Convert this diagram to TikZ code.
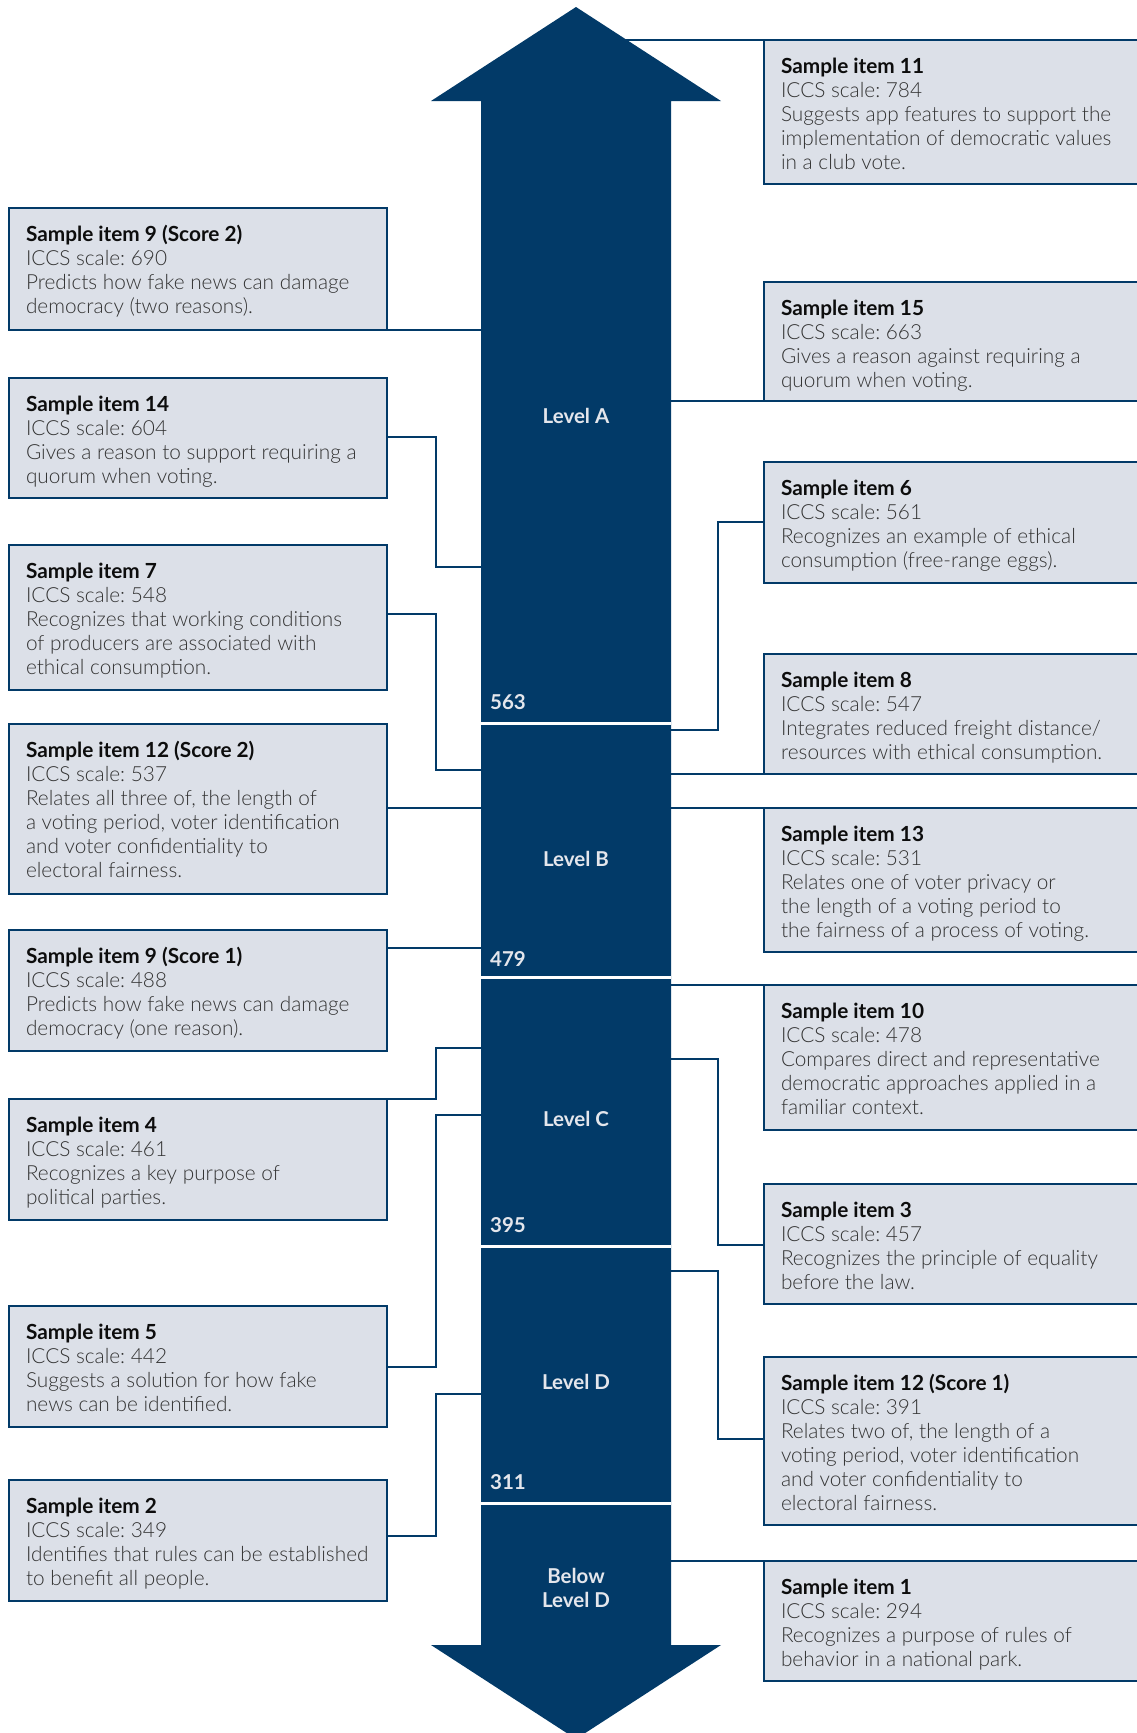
\documentclass[tikz,border=0pt]{standalone}
\usepackage{fontspec}
\setmainfont{Lato Light}[BoldFont={Lato Bold}]
\newfontfamily\labfont{Lato Bold}
\usetikzlibrary{calc}
\frenchspacing
\definecolor{navy}{HTML}{023A68}
\definecolor{boxfill}{HTML}{DCE0E8}
\definecolor{labcol}{HTML}{E4E6EC}
\definecolor{bodycol}{HTML}{333333}
\definecolor{titlecol}{HTML}{0D0D0D}
\newcommand\itl[1]{\hbox{#1}}
\newcommand\itemtext[2]{\vtop{\baselineskip=24pt\lineskiplimit=-100pt\lineskip=0pt\hbox{\color{titlecol}\bfseries #1}#2}}
\newcommand\sample[7]{%
  \node[ibox, minimum width=#4, minimum height=#5] (#1) at (#2,#3) {};
  \node[itxt] (#1t) at ($(#1.north west)+(17,33)$) {\itemtext{#6}{#7}};}
\begin{document}
\begin{tikzpicture}[x=1pt,y=-1pt,
  ibox/.style={draw=navy, fill=boxfill, line width=2.6pt, rectangle, anchor=north west, inner sep=0pt, outer sep=0pt},
  itxt/.style={anchor=base west, inner sep=0pt, outer sep=0pt, text=bodycol, font=\fontsize{20.8}{24}\selectfont},
  conn/.style={draw=navy, line width=2.2pt},
  gapline/.style={draw=white, line width=3pt},
  lvl/.style={text=labcol, font=\labfont\fontsize{20.5}{24}\selectfont, align=center, inner sep=0pt},
  num/.style={text=labcol, font=\labfont\fontsize{20.5}{24}\selectfont, anchor=base west, inner sep=0pt}]
\useasboundingbox (0,0) rectangle (1137,1733);
\clip (0,0) rectangle (1137,1733);
\coordinate (axis) at (576,0);
\coordinate (lk) at (436,0);
\coordinate (rk) at (718,0);
% left connectors
\draw[conn] (387,330) -- (axis |- 0,330);
\draw[conn] (387,437) -- (lk |- 0,437) -- (lk |- 0,567) -- (axis |- 0,567);
\draw[conn] (387,614) -- (lk |- 0,614) -- (lk |- 0,770) -- (axis |- 0,770);
\draw[conn] (387,808) -- (axis |- 0,808);
\draw[conn] (387,948) -- (axis |- 0,948);
\draw[conn] (387,1099) -- (lk |- 0,1099) -- (lk |- 0,1048) -- (axis |- 0,1048);
\draw[conn] (387,1367) -- (lk |- 0,1367) -- (lk |- 0,1115) -- (axis |- 0,1115);
\draw[conn] (387,1536) -- (lk |- 0,1536) -- (lk |- 0,1394) -- (axis |- 0,1394);
% right connectors
\draw[conn] (764,40) -- (axis |- 0,40);
\draw[conn] (764,401) -- (axis |- 0,401);
\draw[conn] (764,522) -- (rk |- 0,522) -- (rk |- 0,730) -- (axis |- 0,730);
\draw[conn] (764,774) -- (axis |- 0,774);
\draw[conn] (764,808) -- (axis |- 0,808);
\draw[conn] (764,985) -- (axis |- 0,985);
\draw[conn] (764,1245) -- (rk |- 0,1245) -- (rk |- 0,1059) -- (axis |- 0,1059);
\draw[conn] (764,1439) -- (rk |- 0,1439) -- (rk |- 0,1271) -- (axis |- 0,1271);
\draw[conn] (764,1561) -- (axis |- 0,1561);
% ---------- double arrow ----------
\fill[navy] (576,7) -- (721,101) -- (671,101) -- (671,1645) -- (721,1645) -- (576,1739)
  -- (431,1645) -- (481,1645) -- (481,101) -- (431,101) -- cycle;
\foreach \yy in {723,977,1246,1503} \draw[gapline] (481,\yy) -- (671,\yy);
\node[lvl] (la) at (576,416) {Level A};
\node[lvl] (lb) at (576,859) {Level B};
\node[lvl] (lc) at (576,1119) {Level C};
\node[lvl] (ld) at (576,1382) {Level D};
\node[lvl] (lbd) at (576,1588) {Below\\Level D};
\node[num] (n563) at (490,709) {563};
\node[num] (n479) at (490,966) {479};
\node[num] (n395) at (490,1232) {395};
\node[num] (n311) at (490,1489) {311};
% ---------- left boxes ----------
\sample{s9b}{9}{208}{378}{122}{Sample item 9 (Score 2)}{\itl{ICCS scale: 690}\itl{Predicts how fake news can damage}\itl{democracy (two reasons).}}
\sample{s14}{9}{378}{378}{120}{Sample item 14}{\itl{ICCS scale: 604}\itl{Gives a reason to support requiring a}\itl{quorum when voting.}}
\sample{s7}{9}{545}{378}{145}{Sample item 7}{\itl{ICCS scale: 548}\itl{Recognizes that working conditions}\itl{of producers are associated with}\itl{ethical consumption.}}
\sample{s12b}{9}{724}{378}{170}{Sample item 12 (Score 2)}{\itl{ICCS scale: 537}\itl{Relates all three of, the length of}\itl{a voting period, voter identification}\itl{and voter confidentiality to}\itl{electoral fairness.}}
\sample{s9a}{9}{930}{378}{121}{Sample item 9 (Score 1)}{\itl{ICCS scale: 488}\itl{Predicts how fake news can damage}\itl{democracy (one reason).}}
\sample{s4}{9}{1099}{378}{121}{Sample item 4}{\itl{ICCS scale: 461}\itl{Recognizes a key purpose of}\itl{political parties.}}
\sample{s5}{9}{1306}{378}{121}{Sample item 5}{\itl{ICCS scale: 442}\itl{Suggests a solution for how fake}\itl{news can be identified.}}
\sample{s2}{9}{1480}{378}{121}{Sample item 2}{\itl{ICCS scale: 349}\itl{Identifies that rules can be established}\itl{to benefit all people.}}
% ---------- right boxes ----------
\sample{s11}{764}{40}{390}{144}{Sample item 11}{\itl{ICCS scale: 784}\itl{Suggests app features to support the}\itl{implementation of democratic values}\itl{in a club vote.}}
\sample{s15}{764}{282}{390}{119}{Sample item 15}{\itl{ICCS scale: 663}\itl{Gives a reason against requiring a}\itl{quorum when voting.}}
\sample{s6}{764}{462}{390}{121}{Sample item 6}{\itl{ICCS scale: 561}\itl{Recognizes an example of ethical}\itl{consumption (free-range eggs).}}
\sample{s8}{764}{654}{390}{120}{Sample item 8}{\itl{ICCS scale: 547}\itl{Integrates reduced freight distance/}\itl{resources with ethical consumption.}}
\sample{s13}{764}{808}{390}{144}{Sample item 13}{\itl{ICCS scale: 531}\itl{Relates one of voter privacy or}\itl{the length of a voting period to}\itl{the fairness of a process of voting.}}
\sample{s10}{764}{985}{390}{145}{Sample item 10}{\itl{ICCS scale: 478}\itl{Compares direct and representative}\itl{democratic approaches applied in a}\itl{familiar context.}}
\sample{s3}{764}{1184}{390}{120}{Sample item 3}{\itl{ICCS scale: 457}\itl{Recognizes the principle of equality}\itl{before the law.}}
\sample{s12a}{764}{1357}{390}{168}{Sample item 12 (Score 1)}{\itl{ICCS scale: 391}\itl{Relates two of, the length of a}\itl{voting period, voter identification}\itl{and voter confidentiality to}\itl{electoral fairness.}}
\sample{s1}{764}{1561}{390}{120}{Sample item 1}{\itl{ICCS scale: 294}\itl{Recognizes a purpose of rules of}\itl{behavior in a national park.}}
\end{tikzpicture}
\end{document}
